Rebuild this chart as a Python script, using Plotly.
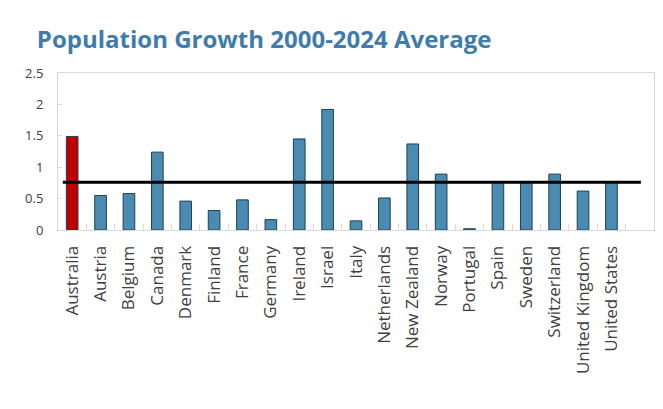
import plotly.graph_objects as go

countries = ["Australia", "Austria", "Belgium", "Canada", "Denmark", "Finland", "France",
             "Germany", "Ireland", "Israel", "Italy", "Netherlands", "New Zealand", "Norway",
             "Portugal", "Spain", "Sweden", "Switzerland", "United Kingdom", "United States"]
growth = [1.49, 0.55, 0.58, 1.24, 0.46, 0.31, 0.48, 0.165, 1.45, 1.92, 0.145, 0.51,
          1.37, 0.89, 0.02, 0.76, 0.76, 0.89, 0.62, 0.76]
average = 0.76
y_ticks = [0, 0.5, 1, 1.5, 2, 2.5]
y_tick_labels = ["0", "0.5", "1", "1.5", "2", "2.5"]

highlight = "Australia"
colors = ["#C00000" if c == highlight else "#4A8BB1" for c in countries]

fig = go.Figure()
fig.add_trace(go.Bar(
    x=countries, y=growth, width=0.41,
    marker=dict(color=colors, line=dict(color="#1F3F55", width=1)),
    showlegend=False, hoverinfo="x+y",
))
fig.add_shape(type="line", xref="paper", yref="y", x0=0.008, x1=0.978,
              y0=average, y1=average, line=dict(color="black", width=3))

fig.update_layout(
    width=655, height=401,
    margin=dict(l=50, r=9, t=65, b=179, autoexpand=False),
    paper_bgcolor="white", plot_bgcolor="white",
    font=dict(family="Open Sans, Noto Sans, sans-serif", color="#404040"),
    title=dict(text="<b>Population Growth 2000-2024 Average</b>",
               x=0.044, xanchor="left", y=0.92, yanchor="middle",
               font=dict(size=24, color="#3F7CAB", family="Open Sans, Noto Sans, sans-serif")),
    bargap=0.5,
)
fig.update_xaxes(
    type="category", range=[-0.5, 20.5], tickangle=-90,
    tickfont=dict(size=17, color="#404040"),
    showline=True, linecolor="#D9D9D9", linewidth=1, mirror=True,
    ticks="inside", tickson="boundaries", ticklen=6, tickcolor="#D9D9D9",
    ticklabelstandoff=8,
    showgrid=False, automargin=False,
)
fig.update_yaxes(
    range=[0, 2.5], tickvals=y_ticks, ticktext=y_tick_labels,
    tickfont=dict(size=13, color="#404040"),
    showline=True, linecolor="#D9D9D9", linewidth=1, mirror=True,
    ticks="inside", ticklen=4, tickcolor="#D9D9D9",
    ticklabelstandoff=11,
    showgrid=False, zeroline=False, automargin=False,
)

fig.write_html("out.html")
